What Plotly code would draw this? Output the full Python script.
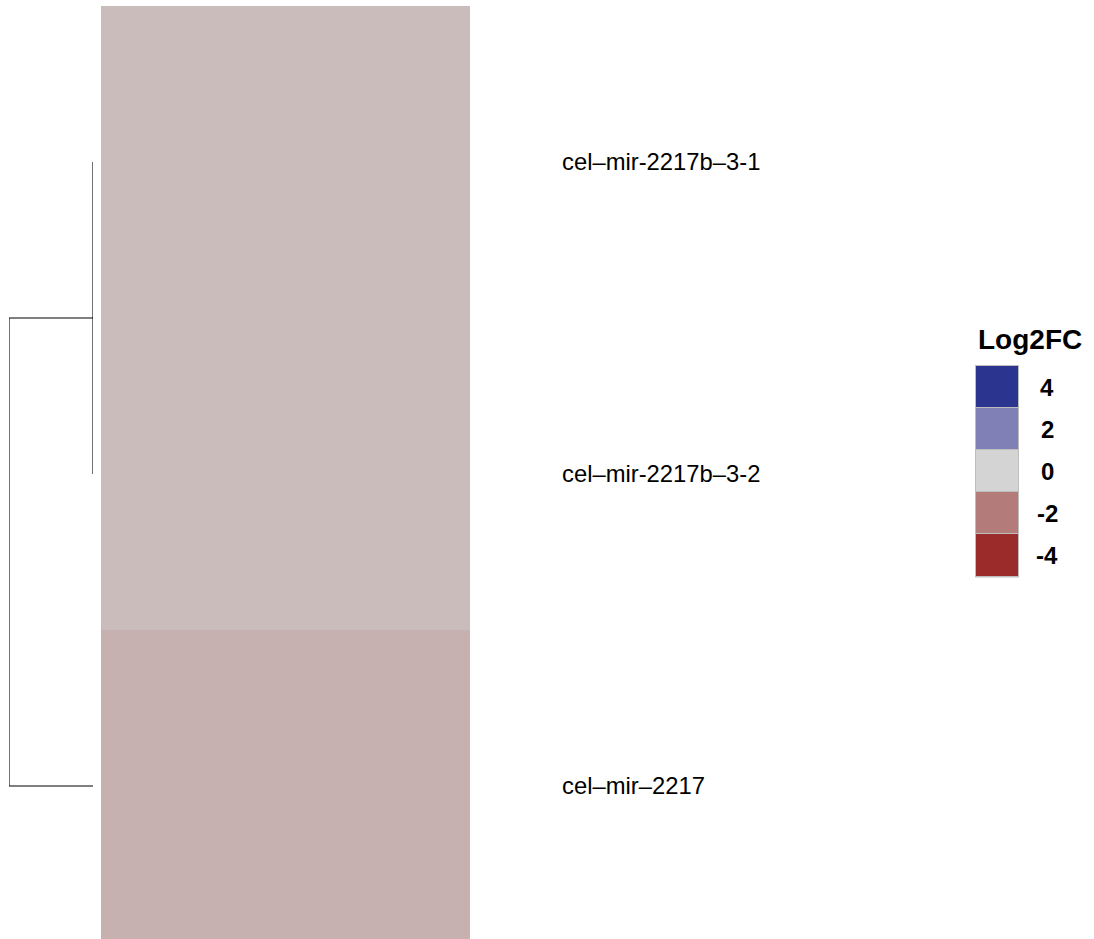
import plotly.graph_objects as go

# ---- data ----
row_labels = ["cel–mir-2217b–3-1", "cel–mir-2217b–3-2", "cel–mir–2217"]
log2fc = [-0.55, -0.55, -0.8]
legend_values = [4, 2, 0, -2, -4]
legend_labels = ["4", "2", "0", "-2", "-4"]
legend_colors = ["#2B358F", "#8080B6", "#D3D4D3", "#B37C7B", "#9B2A2A"]
# dendrogram merges: (left, right, height); leaves 0..2, clusters 3..
merges = [(0, 1, 0.0), (3, 2, 1.0)]

W, H = 1094, 939
def px(x):
    return x / W
def py(y):
    return 1 - y / H

# colorscale from legend
vmin, vmax = -4, 4
pairs = sorted(zip(legend_values, legend_colors))
colorscale = [[(v - vmin) / (vmax - vmin), c] for v, c in pairs]

fig = go.Figure()

# main heatmap
fig.add_trace(go.Heatmap(
    z=[[v] for v in log2fc], x=[0], y=list(range(len(row_labels))),
    colorscale=colorscale, zmin=vmin, zmax=vmax, showscale=False,
    xaxis="x", yaxis="y", hoverinfo="skip"))

# dendrogram
pos = {i: (float(i), 0.0) for i in range(len(row_labels))}
dx, dy = [], []
nid = len(row_labels)
for a, b, h in merges:
    ya, ha = pos[a]
    yb, hb = pos[b]
    dx += [ha, h, h, hb, None]
    dy += [ya, ya, yb, yb, None]
    pos[nid] = ((ya + yb) / 2, h)
    nid += 1
fig.add_trace(go.Scatter(x=dx, y=dy, mode="lines", line=dict(color="#000000", width=1.1),
                         xaxis="x3", yaxis="y3", cliponaxis=False, hoverinfo="skip",
                         showlegend=False))

# legend heatmap
fig.add_trace(go.Heatmap(
    z=[[v] for v in legend_values], x=[0], y=list(range(len(legend_values))),
    colorscale=colorscale, zmin=vmin, zmax=vmax, showscale=False, ygap=1,
    xaxis="x2", yaxis="y2", hoverinfo="skip"))

row_h = 312.0
top = 6
yrange = [-0.5 + (H - top) / row_h, -0.5]
maxh = max(m[2] for m in merges)

fig.update_layout(
    width=W, height=H, margin=dict(l=0, r=0, t=0, b=0),
    paper_bgcolor="white", plot_bgcolor="rgba(0,0,0,0)",
    font=dict(family="Liberation Sans, Arial, Helvetica, sans-serif", color="black"),
    xaxis=dict(domain=[px(101), px(470)], showticklabels=False, showgrid=False,
               zeroline=False, range=[-0.5, 0.5], fixedrange=True),
    yaxis=dict(domain=[0, py(top)], range=yrange, side="right", showgrid=False,
               zeroline=False, tickvals=list(range(len(row_labels))), ticktext=row_labels,
               ticks="", ticklabelstandoff=91, tickfont=dict(size=23.8), anchor="x"),
    xaxis2=dict(domain=[px(976), px(1018)], showticklabels=False, showgrid=False,
                zeroline=False, range=[-0.5, 0.5], anchor="y2"),
    yaxis2=dict(domain=[py(576.5), py(366)], range=[len(legend_values) - 0.5, -0.5],
                showticklabels=False, showgrid=False, zeroline=False, anchor="x2"),
    xaxis3=dict(domain=[px(9), px(93)], range=[maxh, 0], showticklabels=False,
                showgrid=False, zeroline=False, anchor="y3"),
    yaxis3=dict(domain=[0, py(top)], range=yrange, showticklabels=False,
                showgrid=False, zeroline=False, anchor="x3"),
    showlegend=False,
)

# legend border
fig.add_shape(type="rect", xref="paper", yref="paper",
              x0=px(975), x1=px(1019), y0=py(577.5), y1=py(365),
              fillcolor="#BEBEBE", line=dict(width=0), layer="below")

# legend title and labels
fig.add_annotation(text="<b>Log2FC</b>", xref="paper", yref="paper", x=px(976), y=py(339),
                   xanchor="left", yanchor="middle", showarrow=False,
                   font=dict(size=28))
for i, lab in enumerate(legend_labels):
    fig.add_annotation(text="<b>%s</b>" % lab, xref="paper", yref="y2", x=px(1047), y=i,
                       xanchor="center", yanchor="middle", showarrow=False,
                       font=dict(size=24))

fig.write_html("out.html", config={"displayModeBar": False},
               post_script="document.body.style.margin='0';document.body.style.overflow='hidden';")
